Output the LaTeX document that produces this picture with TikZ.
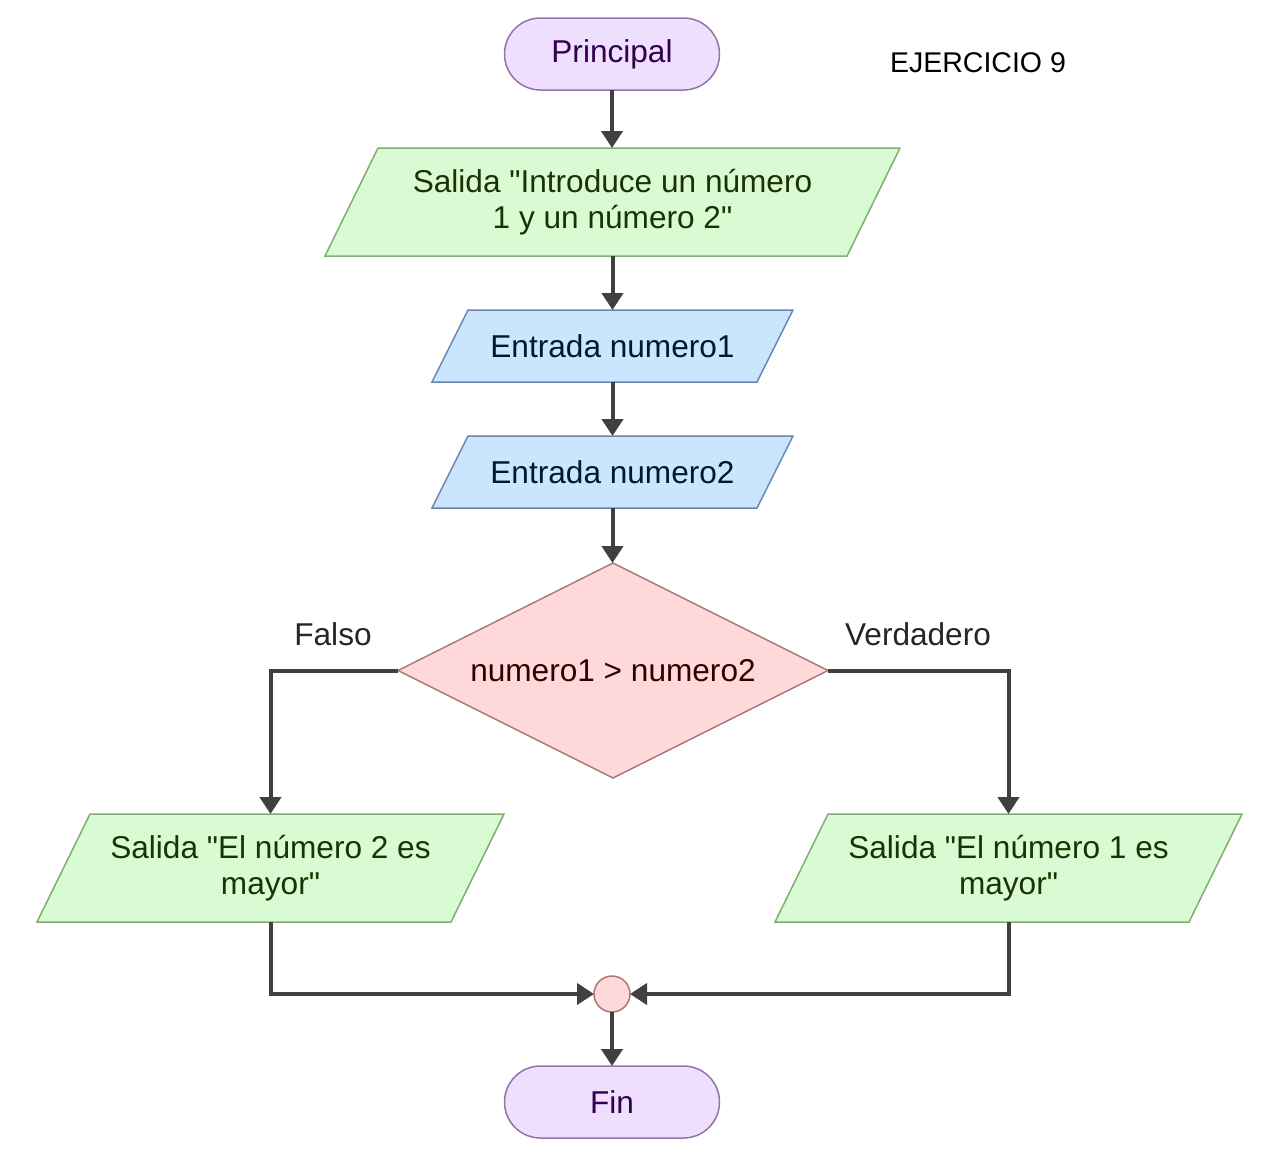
\documentclass[tikz,border=0pt]{standalone}
\usepackage{fontspec}
\setmainfont{Liberation Sans}[Ligatures=TeXOff]
\usetikzlibrary{arrows.meta,shapes.geometric,backgrounds}
\definecolor{termfill}{HTML}{EEDFFF}
\definecolor{termdraw}{HTML}{9673A6}
\definecolor{termtext}{HTML}{33004D}
\definecolor{grfill}{HTML}{D9FBD4}
\definecolor{grdraw}{HTML}{82AD70}
\definecolor{grtext}{HTML}{1A3300}
\definecolor{blfill}{HTML}{CCE5FF}
\definecolor{bldraw}{HTML}{6886AF}
\definecolor{bltext}{HTML}{001933}
\definecolor{rdfill}{HTML}{FFD9D9}
\definecolor{rddraw}{HTML}{A87878}
\definecolor{rdtext}{HTML}{330000}
\definecolor{edgecol}{HTML}{404040}
\tikzset{
  basefont/.style={font=\fontsize{31.6}{36}\selectfont},
  term/.style={basefont, draw=termdraw, fill=termfill, text=termtext, line width=1.5pt,
    rounded corners=36pt, minimum width=215pt, minimum height=72pt, inner sep=0pt, outer sep=0pt},
  slot/.style={basefont, inner sep=0pt, outer sep=0pt, align=center},
  dec/.style={basefont, diamond, draw=rddraw, fill=rdfill, text=rdtext, line width=1.5pt,
    minimum width=430pt, minimum height=215pt, inner sep=0pt, outer sep=0pt, aspect=2},
  joinc/.style={circle, draw=rddraw, fill=rdfill, line width=1.5pt, minimum size=36pt, inner sep=0pt, outer sep=0pt},
  conn/.style={draw=edgecol, line width=4pt, -{Triangle[length=17pt,width=21pt]}},
  lbl/.style={basefont, text=black!85, inner sep=0pt},
  grshape/.style={draw=grdraw, fill=grfill, line width=1.5pt},
  blshape/.style={draw=bldraw, fill=blfill, line width=1.5pt},
}
\begin{document}
\begin{tikzpicture}[x=1pt,y=-1pt]
\useasboundingbox (0,0) rectangle (1261,1159);

\node[term] (ini) at (612,54) {Principal};
\node[font=\fontsize{28.5}{34}\selectfont, text=black, inner sep=0pt] (tit) at (978,63) {EJERCICIO 9};

\node[slot, text=grtext, minimum width=575pt, minimum height=108pt] (o1) at (612.5,202) {Salida "Introduce un número\\1 y un número 2"};
\node[slot, text=bltext, minimum width=361pt, minimum height=72pt] (i1) at (612.5,346) {Entrada numero1};
\node[slot, text=bltext, minimum width=361pt, minimum height=72pt] (i2) at (612.5,472) {Entrada numero2};
\node[dec] (d) at (613,670.5) {numero1 > numero2};
\node[slot, text=grtext, minimum width=467pt, minimum height=108pt] (oL) at (270.5,868) {Salida "El número 2 es\\mayor"};
\node[slot, text=grtext, minimum width=467pt, minimum height=108pt] (oR) at (1008.5,868) {Salida "El número 1 es\\mayor"};
\node[joinc] (j) at (612,994) {};
\node[term] (fin) at (612,1102) {Fin};

\node[lbl] (lf) at (333,634) {Falso};
\node[lbl] (lv) at (918,634) {Verdadero};

\begin{scope}[on background layer]
  \fill[white] (0,0) rectangle (1261,1159);
  \draw[grshape] ([xshift=53pt]o1.north west) -- (o1.north east) -- ([xshift=-53pt]o1.south east) -- (o1.south west) -- cycle;
  \draw[blshape] ([xshift=36pt]i1.north west) -- (i1.north east) -- ([xshift=-36pt]i1.south east) -- (i1.south west) -- cycle;
  \draw[blshape] ([xshift=36pt]i2.north west) -- (i2.north east) -- ([xshift=-36pt]i2.south east) -- (i2.south west) -- cycle;
  \draw[grshape] ([xshift=53pt]oL.north west) -- (oL.north east) -- ([xshift=-53pt]oL.south east) -- (oL.south west) -- cycle;
  \draw[grshape] ([xshift=53pt]oR.north west) -- (oR.north east) -- ([xshift=-53pt]oR.south east) -- (oR.south west) -- cycle;
\end{scope}

\draw[conn] (ini.south) -- (ini.south |- o1.north);
\draw[conn] (o1.south) -- (o1.south |- i1.north);
\draw[conn] (i1.south) -- (i1.south |- i2.north);
\draw[conn] (i2.south) -- (i2.south |- d.north);
\draw[conn] (d.west) -| (oL.north);
\draw[conn] (d.east) -| (oR.north);
\draw[conn] (oL.south) |- (j.west);
\draw[conn] (oR.south) |- (j.east);
\draw[conn] (j.south) -- (fin.north);
\end{tikzpicture}
\end{document}
